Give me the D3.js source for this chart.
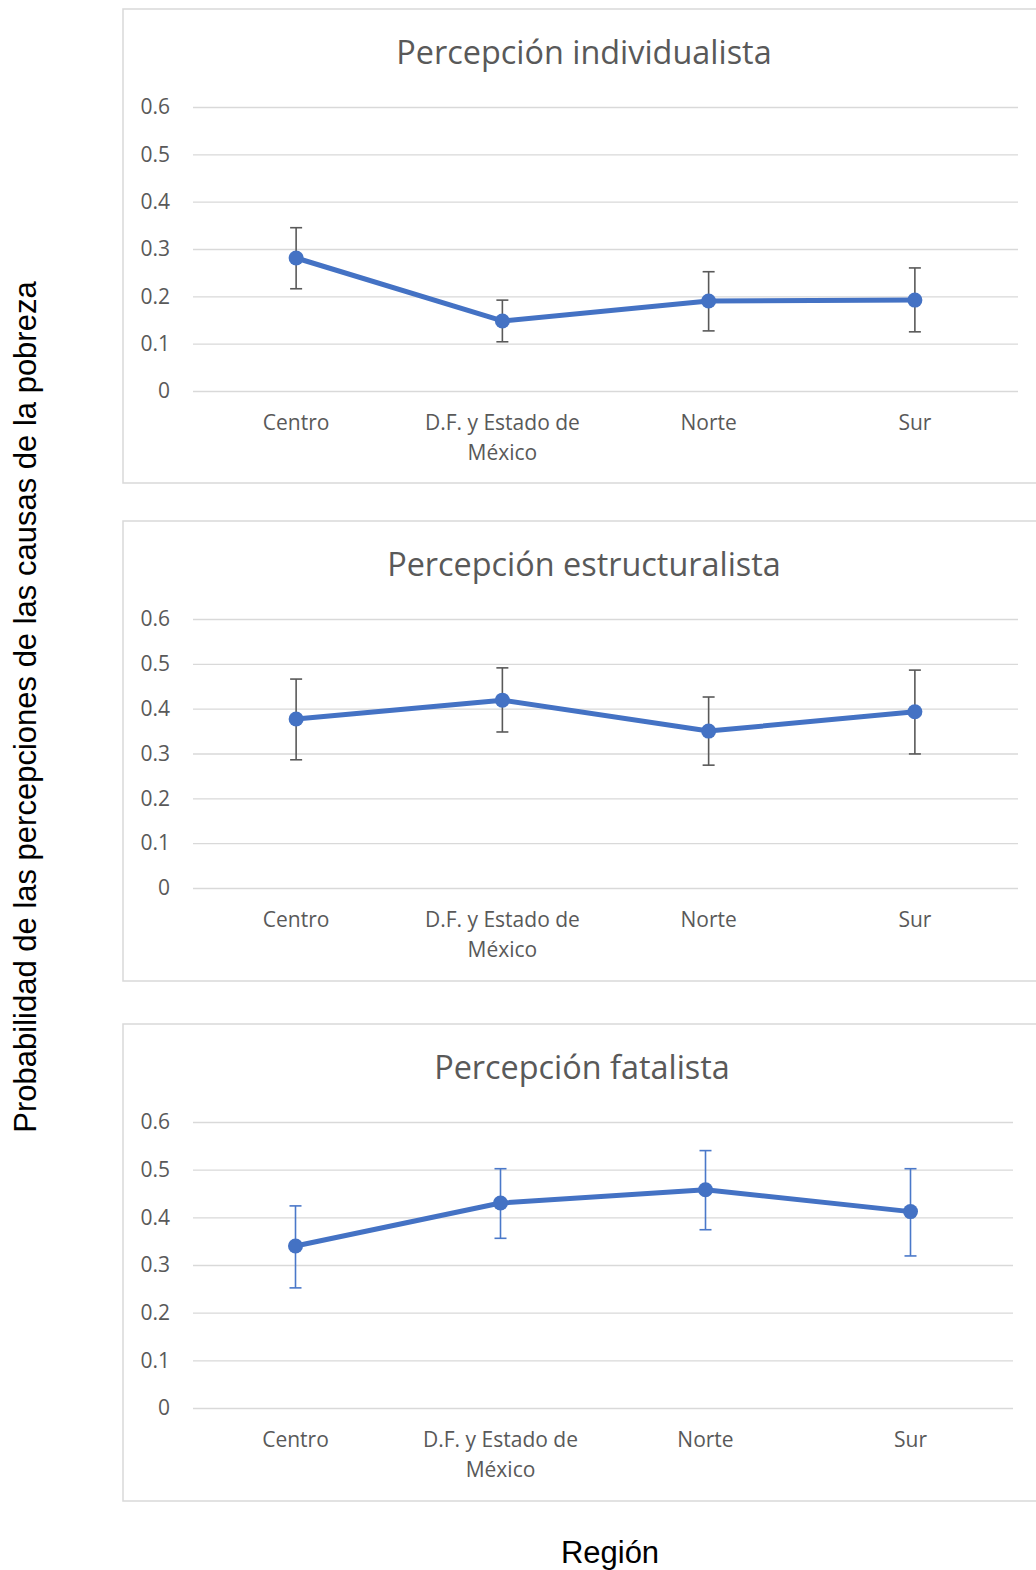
<!DOCTYPE html>
<html>
<head>
<meta charset="utf-8">
<script src="https://cdn.jsdelivr.net/npm/d3@7"></script>
<style>
  body { margin: 0; background: #fff; }
  svg { display: block; }
</style>
</head>
<body>
<div id="chart"></div>
<script>
//Categories shared by the three panels.
const regions = ["Centro", "D.F. y Estado de México", "Norte", "Sur"]
const yTicks = [0, 0.1, 0.2, 0.3, 0.4, 0.5, 0.6]

//Panel titles.
const titles = ["Percepción individualista", "Percepción estructuralista", "Percepción fatalista"]

//Probabilities and their confidence bounds.
const indivValues = [0.281, 0.148, 0.190, 0.192]
const indivLow = [0.216, 0.104, 0.127, 0.125]
const indivHigh = [0.345, 0.192, 0.252, 0.260]

const estrucValues = [0.377, 0.419, 0.350, 0.393]
const estrucLow = [0.286, 0.348, 0.274, 0.299]
const estrucHigh = [0.466, 0.491, 0.426, 0.486]

const fatalValues = [0.340, 0.430, 0.458, 0.412]
const fatalLow = [0.252, 0.356, 0.374, 0.319]
const fatalHigh = [0.424, 0.502, 0.540, 0.502]

const yLabel = "Probabilidad de las percepciones de las causas de la pobreza"
const xLabel = "Región"

//Size of the page.
let w = 1036
let h = 1570

//Where each panel sits on the page.
const panels = [
  { title: titles[0], values: indivValues, low: indivLow, high: indivHigh,
    boxTop: 9, boxBottom: 483, boxRight: 1045, gridTop: 107, gridBottom: 391, x0: 193, x1: 1018, barColor: "#595959" },
  { title: titles[1], values: estrucValues, low: estrucLow, high: estrucHigh,
    boxTop: 521, boxBottom: 981, boxRight: 1045, gridTop: 619, gridBottom: 888, x0: 193, x1: 1018, barColor: "#595959" },
  { title: titles[2], values: fatalValues, low: fatalLow, high: fatalHigh,
    boxTop: 1024, boxBottom: 1501, boxRight: 1041, gridTop: 1122, gridBottom: 1408, x0: 193, x1: 1013, barColor: "#4a78c9" }
]

const boxLeft = 123
const textColor = "#595959"
const gridColor = "#d9d9d9"
const lineColor = "#4472c4"
const font = "'Open Sans', sans-serif"

const svg = d3.select("#chart")
              .append("svg")
              .attr("width", w)
              .attr("height", h)
              .attr("viewBox", "0 0 " + w + " " + h)

panels.forEach(drawPanel)

//Shared axis titles.
svg.append("text")
   .attr("transform", "translate(36, 707) rotate(-90)")
   .attr("text-anchor", "middle")
   .attr("font-family", "'Liberation Sans', Arial, sans-serif")
   .attr("font-size", 31)
   .attr("fill", "#000")
   .text(yLabel)

svg.append("text")
   .attr("x", 610)
   .attr("y", 1563)
   .attr("text-anchor", "middle")
   .attr("font-family", "'Liberation Sans', Arial, sans-serif")
   .attr("font-size", 31)
   .attr("fill", "#000")
   .text(xLabel)

function drawPanel(p) {
  const g = svg.append("g")

  //Frame of the chart area.
  g.append("rect")
   .attr("x", boxLeft)
   .attr("y", p.boxTop)
   .attr("width", p.boxRight - boxLeft)
   .attr("height", p.boxBottom - p.boxTop)
   .attr("fill", "#fff")
   .attr("stroke", gridColor)
   .attr("stroke-width", 1.5)

  let x = d3.scaleBand()
            .domain(regions)
            .range([p.x0, p.x1])

  let y = d3.scaleLinear()
            .domain([0, 0.6])
            .range([p.gridBottom, p.gridTop])

  //Horizontal gridlines with the tick labels on the left.
  let yAxis = d3.axisLeft(y)
                .tickValues(yTicks)
                .tickFormat(d => d === 0 ? "0" : d3.format(".1f")(d))
                .tickSize(-(p.x1 - p.x0))
                .tickPadding(23)

  g.append("g")
   .attr("transform", "translate(" + p.x0 + ",0)")
   .call(yAxis)
   .call(a => a.select(".domain").remove())
   .call(a => a.selectAll(".tick line").attr("stroke", gridColor).attr("stroke-width", 1.4))
   .call(a => a.selectAll(".tick text")
               .attr("fill", textColor)
               .attr("font-family", font)
               .attr("font-size", 21))

  //Category labels under the plot, wrapped like the original.
  let xAxis = d3.axisBottom(x).tickSize(0).tickPadding(0)

  g.append("g")
   .attr("transform", "translate(0," + p.gridBottom + ")")
   .call(xAxis)
   .call(a => a.select(".domain").remove())
   .call(a => a.selectAll(".tick text")
               .attr("fill", textColor)
               .attr("font-family", font)
               .attr("font-size", 21)
               .attr("dy", 0)
               .attr("y", 39)
               .call(wrap, 185))

  //Title.
  g.append("text")
   .attr("x", (boxLeft + p.boxRight) / 2)
   .attr("y", p.gridTop - 43)
   .attr("text-anchor", "middle")
   .attr("font-family", font)
   .attr("font-size", 32.4)
   .attr("fill", textColor)
   .text(p.title)

  //Error bars.
  let bars = g.append("g")
              .attr("stroke", p.barColor)
              .attr("stroke-width", 1.6)
              .attr("fill", "none")

  let cx = (d, i) => x(regions[i]) + x.bandwidth() / 2

  bars.selectAll(".whisker")
      .data(p.values)
      .enter()
      .append("line")
      .attr("x1", cx)
      .attr("x2", cx)
      .attr("y1", (d, i) => y(p.low[i]))
      .attr("y2", (d, i) => y(p.high[i]))

  ;["low", "high"].forEach(k => {
    bars.selectAll(".cap-" + k)
        .data(p[k])
        .enter()
        .append("line")
        .attr("x1", (d, i) => cx(d, i) - 6)
        .attr("x2", (d, i) => cx(d, i) + 6)
        .attr("y1", d => y(d))
        .attr("y2", d => y(d))
  })

  //Line and markers.
  let line = d3.line()
               .x((d, i) => cx(d, i))
               .y(d => y(d))

  g.append("path")
   .datum(p.values)
   .attr("d", line)
   .attr("fill", "none")
   .attr("stroke", lineColor)
   .attr("stroke-width", 5)
   .attr("stroke-linejoin", "round")

  g.selectAll(".marker")
   .data(p.values)
   .enter()
   .append("circle")
   .attr("cx", cx)
   .attr("cy", d => y(d))
   .attr("r", 7.5)
   .attr("fill", lineColor)
}

//Splits a label into lines that fit in the given width.
function wrap(texts, width) {
  texts.each(function () {
    let text = d3.select(this)
    let words = text.text().split(/\s+/)
    let yPos = text.attr("y")
    let lineNo = 0
    let lineWords = []
    text.text(null)
    let tspan = text.append("tspan").attr("x", 0).attr("y", yPos)
    words.forEach(word => {
      lineWords.push(word)
      tspan.text(lineWords.join(" "))
      if (tspan.node().getComputedTextLength() > width && lineWords.length > 1) {
        lineWords.pop()
        tspan.text(lineWords.join(" "))
        lineWords = [word]
        lineNo++
        tspan = text.append("tspan")
                    .attr("x", 0)
                    .attr("y", +yPos + lineNo * 29.5)
                    .text(word)
      }
    })
  })
}
</script>
</body>
</html>
